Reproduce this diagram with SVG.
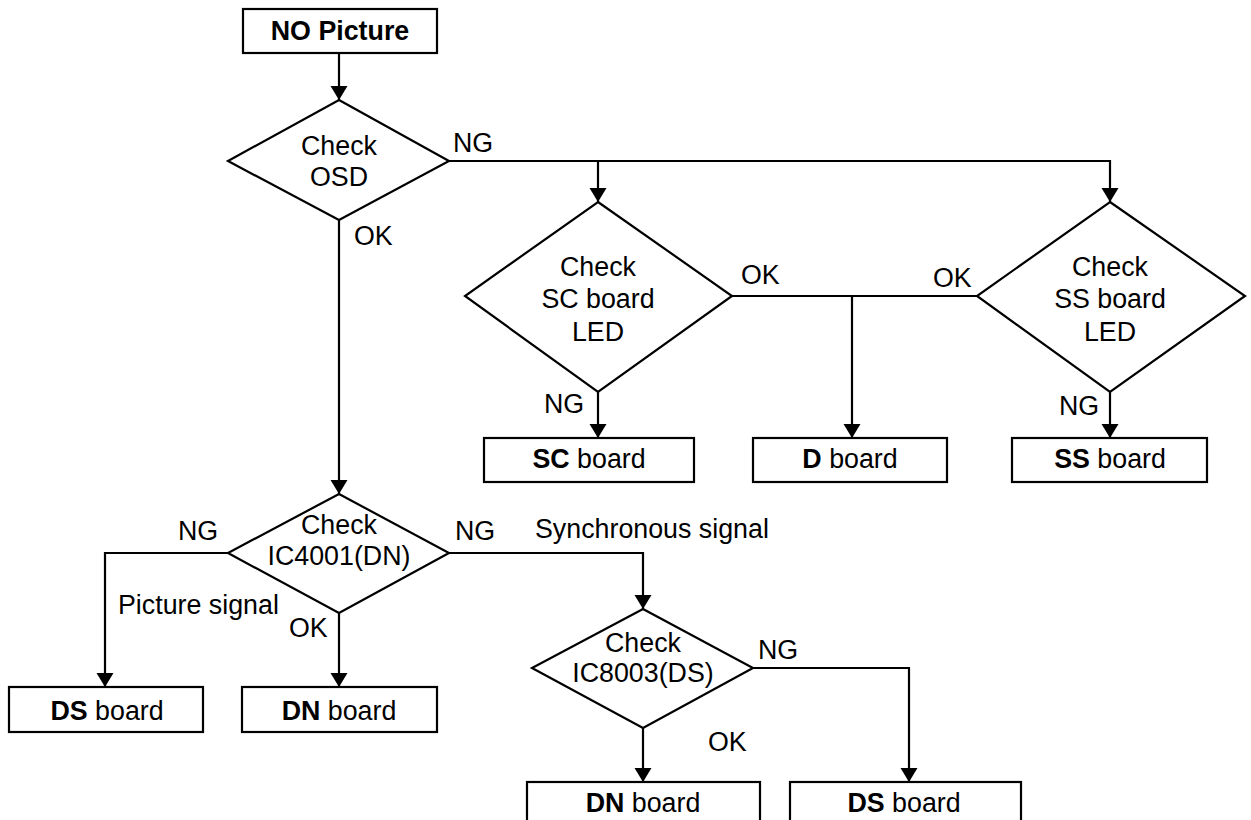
<svg xmlns="http://www.w3.org/2000/svg" width="1251" height="820" viewBox="0 0 1251 820">
<defs>
<marker id="arr" markerUnits="userSpaceOnUse" markerWidth="15" markerHeight="18" refX="14" refY="8.5" orient="auto">
<path d="M0,0 L14,8.5 L0,17 Z" fill="#000"/>
</marker>
<style>
.box{fill:#fff;stroke:#000;stroke-width:2.2}
.dia{fill:#fff;stroke:#000;stroke-width:2.2}
.t{font-family:"Liberation Sans",Arial,sans-serif;font-size:26.8px;fill:#000}
.c{text-anchor:middle}
.b{font-weight:bold}
.ln{fill:none;stroke:#000;stroke-width:2.2}
</style>
</defs>
<rect width="1251" height="820" fill="#fff"/>
<g id="connectors">
<path class="ln" d="M339,53 V100" marker-end="url(#arr)"/>
<path class="ln" d="M449,161 H1110 V202" marker-end="url(#arr)"/>
<path class="ln" d="M598,161 V202" marker-end="url(#arr)"/>
<path class="ln" d="M339,220 V494" marker-end="url(#arr)"/>
<path class="ln" d="M732,296 H977"/>
<path class="ln" d="M852,296 V438" marker-end="url(#arr)"/>
<path class="ln" d="M598,392 V438" marker-end="url(#arr)"/>
<path class="ln" d="M1110,392 V438" marker-end="url(#arr)"/>
<path class="ln" d="M228,553 H105 V687" marker-end="url(#arr)"/>
<path class="ln" d="M339,613 V687" marker-end="url(#arr)"/>
<path class="ln" d="M449,553 H643 V609" marker-end="url(#arr)"/>
<path class="ln" d="M643,728 V782" marker-end="url(#arr)"/>
<path class="ln" d="M753,668 H909 V782" marker-end="url(#arr)"/>
<text class="t" x="453" y="152">NG</text>
<text class="t" x="354" y="245">OK</text>
<text class="t" x="741" y="284">OK</text>
<text class="t" x="933" y="287">OK</text>
<text class="t" x="544" y="413">NG</text>
<text class="t" x="1059" y="415">NG</text>
<text class="t" x="178" y="540">NG</text>
<text class="t" x="455" y="540">NG</text>
<text class="t" x="118" y="614">Picture signal</text>
<text class="t" x="289" y="637">OK</text>
<text class="t" x="535" y="538">Synchronous signal</text>
<text class="t" x="758" y="659">NG</text>
<text class="t" x="708" y="751">OK</text>
</g>
<g id="no-picture">
<rect class="box" x="243" y="9" width="194" height="44"/>
<text class="t c b" x="340" y="40">NO Picture</text>
</g>
<g id="check-osd">
<polygon class="dia" points="339,100 449,161 339,220 228,161"/>
<text class="t c" x="339" y="155">Check</text>
<text class="t c" x="339" y="186">OSD</text>
</g>
<g id="check-sc">
<polygon class="dia" points="598,202 732,296 598,392 465,296"/>
<text class="t c" x="598" y="276">Check</text>
<text class="t c" x="598" y="308">SC board</text>
<text class="t c" x="598" y="341">LED</text>
</g>
<g id="check-ss">
<polygon class="dia" points="1110,202 1245,296 1110,392 977,296"/>
<text class="t c" x="1110" y="276">Check</text>
<text class="t c" x="1110" y="308">SS board</text>
<text class="t c" x="1110" y="341">LED</text>
</g>
<g id="sc-board">
<rect class="box" x="484" y="438" width="210" height="44"/>
<text class="t c" x="589" y="468"><tspan class="b">SC</tspan> board</text>
</g>
<g id="d-board">
<rect class="box" x="753" y="438" width="194" height="44"/>
<text class="t c" x="850" y="468"><tspan class="b">D</tspan> board</text>
</g>
<g id="ss-board">
<rect class="box" x="1012" y="438" width="195" height="44"/>
<text class="t c" x="1110" y="468"><tspan class="b">SS</tspan> board</text>
</g>
<g id="check-ic4001">
<polygon class="dia" points="339,494 449,553 339,613 228,553"/>
<text class="t c" x="339" y="534">Check</text>
<text class="t c" x="339" y="565">IC4001(DN)</text>
</g>
<g id="ds-board-1">
<rect class="box" x="9" y="687" width="194" height="45"/>
<text class="t c" x="107" y="720"><tspan class="b">DS</tspan> board</text>
</g>
<g id="dn-board-1">
<rect class="box" x="242" y="687" width="195" height="45"/>
<text class="t c" x="339" y="720"><tspan class="b">DN</tspan> board</text>
</g>
<g id="check-ic8003">
<polygon class="dia" points="643,609 753,668 643,728 532,668"/>
<text class="t c" x="643" y="652">Check</text>
<text class="t c" x="643" y="682">IC8003(DS)</text>
</g>
<g id="dn-board-2">
<rect class="box" x="527" y="782" width="233" height="60"/>
<text class="t c" x="643" y="812"><tspan class="b">DN</tspan> board</text>
</g>
<g id="ds-board-2">
<rect class="box" x="790" y="782" width="231" height="60"/>
<text class="t c" x="904" y="812"><tspan class="b">DS</tspan> board</text>
</g>
</svg>
